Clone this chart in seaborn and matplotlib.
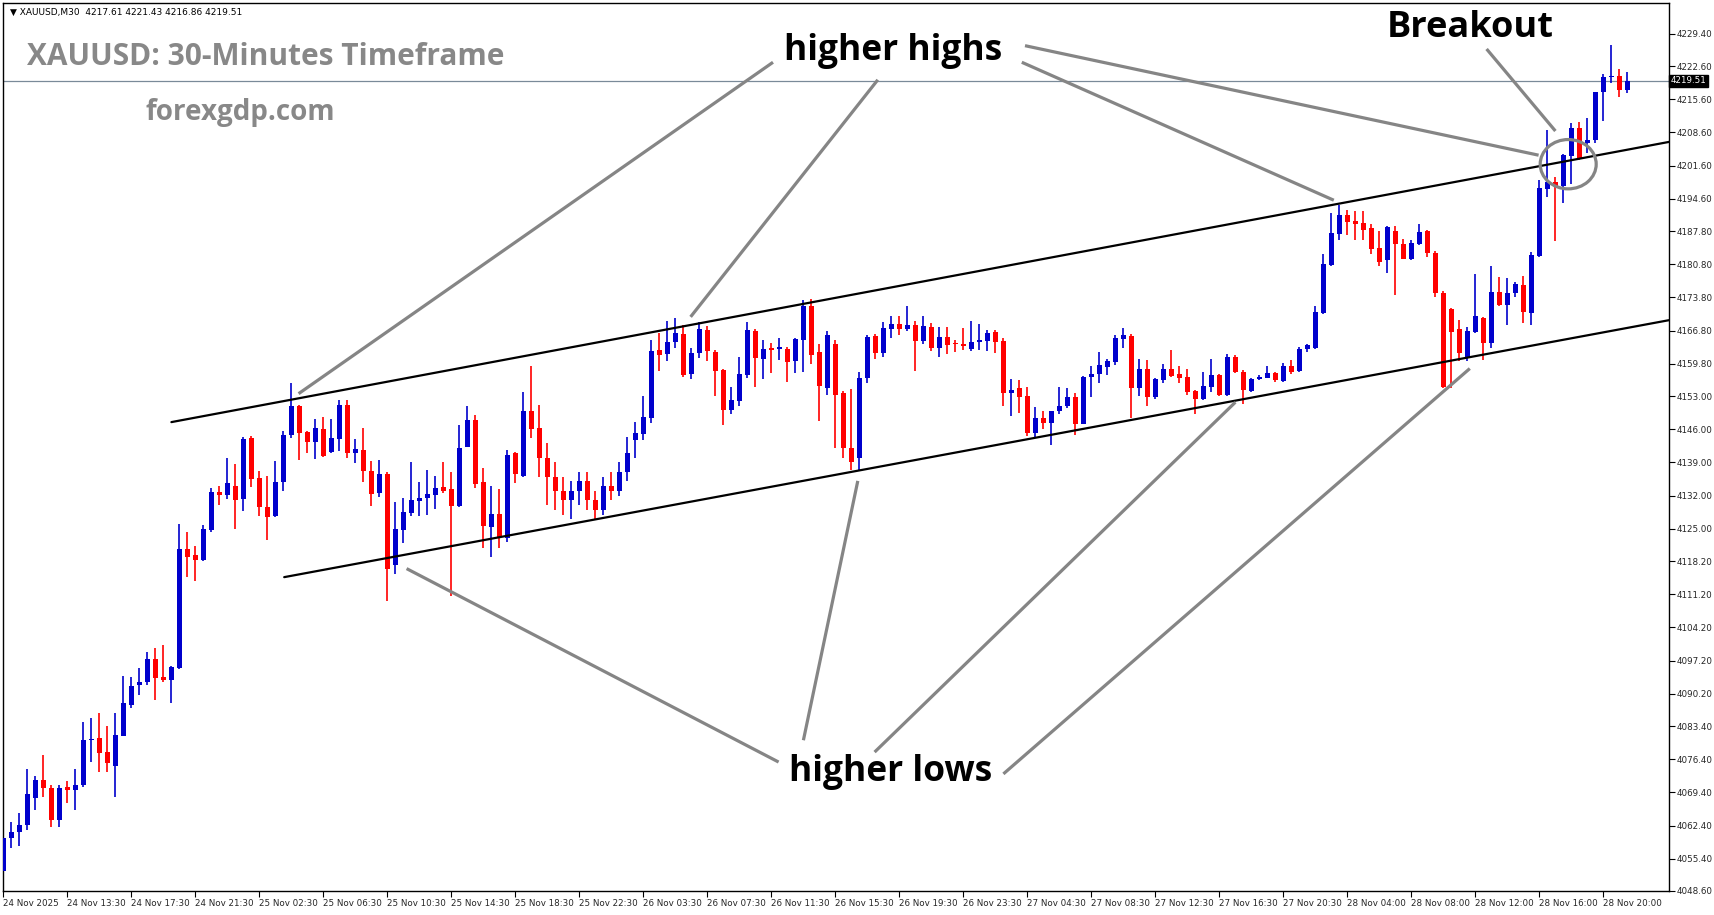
import numpy as np
import pandas as pd
import matplotlib
matplotlib.use("Agg")
import matplotlib.pyplot as plt
import seaborn as sns
from matplotlib.patches import Ellipse

# OHLC of the XAUUSD M30 candles
opens = [4052.8, 4059.7, 4061.0, 4062.5, 4068.3, 4072.0, 4070.4, 4063.6, 4070.6, 4069.9,
         4071.0, 4080.5, 4080.9, 4077.9, 4075.0, 4081.2, 4087.9, 4092.1, 4092.6, 4097.5,
         4093.8, 4093.0, 4095.7, 4120.7, 4119.5, 4118.5, 4124.8, 4132.8, 4132.2, 4134.0,
         4131.2, 4144.2, 4135.8, 4129.6, 4127.6, 4134.8, 4144.7, 4151.0, 4145.4, 4143.2,
         4146.1, 4141.1, 4144.0, 4151.1, 4140.9, 4141.6, 4137.2, 4132.6, 4136.6, 4117.3,
         4124.8, 4128.3, 4130.8, 4131.4, 4132.2, 4133.8, 4133.4, 4129.9, 4142.3, 4148.0,
         4134.8, 4125.3, 4128.1, 4123.1, 4141.0, 4136.2, 4149.9, 4146.2, 4140.0, 4136.0,
         4133.0, 4131.0, 4133.0, 4135.0, 4131.0, 4129.0, 4134.0, 4133.0, 4137.0, 4143.7,
         4144.9, 4148.4, 4162.7, 4161.9, 4164.3, 4166.1, 4157.6, 4162.1, 4166.9, 4162.3,
         4158.5, 4150.1, 4152.0, 4157.4, 4166.7, 4160.8, 4162.9, 4162.9, 4163.0, 4160.3,
         4164.8, 4171.9, 4162.3, 4154.6, 4164.0, 4153.7, 4142.0, 4140.0, 4156.9, 4165.7,
         4162.0, 4167.2, 4168.2, 4167.2, 4168.0, 4164.7, 4167.6, 4163.2, 4165.5, 4164.2,
         4164.0, 4163.0, 4164.3, 4164.6, 4166.5, 4164.6, 4153.7, 4154.6, 4153.0, 4145.3,
         4148.3, 4147.4, 4149.8, 4150.9, 4152.8, 4147.1, 4157.0, 4157.6, 4159.2, 4160.2,
         4165.0, 4165.7, 4154.7, 4158.7, 4152.8, 4156.4, 4158.8, 4157.6, 4157.1, 4154.1,
         4152.4, 4155.0, 4157.4, 4153.2, 4161.3, 4158.0, 4154.1, 4156.5, 4156.9, 4157.8,
         4156.2, 4159.3, 4158.3, 4162.9, 4163.1, 4170.6, 4180.6, 4187.1, 4191.2, 4189.9,
         4189.6, 4188.4, 4184.2, 4181.6, 4187.9, 4185.1, 4182.0, 4185.1, 4187.8, 4183.1,
         4174.7, 4171.3, 4167.1, 4161.3, 4166.6, 4169.4, 4164.2, 4175.0, 4172.1, 4174.7,
         4176.5, 4170.6, 4182.6, 4196.6, 4198.2, 4197.2, 4203.6, 4209.5, 4206.4, 4206.9,
         4217.1, 4220.2, 4220.5, 4217.61]
highs = [4067.0, 4063.1, 4065.0, 4074.3, 4072.9, 4077.3, 4071.0, 4071.0, 4071.8, 4074.3,
         4084.3, 4085.0, 4086.2, 4083.3, 4086.2, 4094.0, 4093.8, 4095.7, 4099.0, 4099.8,
         4100.5, 4096.0, 4126.0, 4124.3, 4121.4, 4125.7, 4133.6, 4134.0, 4140.0, 4138.7,
         4144.4, 4144.6, 4137.2, 4136.1, 4139.3, 4145.6, 4155.7, 4151.2, 4145.6, 4148.2,
         4148.6, 4148.2, 4152.2, 4152.2, 4143.9, 4146.3, 4139.3, 4139.5, 4136.9, 4130.7,
         4131.4, 4139.0, 4134.8, 4137.4, 4136.2, 4139.0, 4137.0, 4146.9, 4150.9, 4148.9,
         4137.8, 4134.0, 4133.3, 4141.6, 4141.3, 4153.9, 4159.3, 4151.1, 4143.0, 4139.0,
         4136.0, 4135.0, 4137.0, 4137.0, 4133.0, 4136.0, 4137.0, 4139.0, 4144.4, 4147.6,
         4153.0, 4164.8, 4166.2, 4168.9, 4169.4, 4167.9, 4163.1, 4168.7, 4167.8, 4162.8,
         4158.6, 4154.8, 4161.3, 4168.6, 4167.1, 4164.8, 4164.2, 4165.2, 4163.4, 4165.2,
         4173.3, 4173.4, 4164.0, 4166.7, 4164.8, 4154.0, 4154.5, 4158.1, 4165.9, 4166.0,
         4168.7, 4169.9, 4169.9, 4171.9, 4168.9, 4169.9, 4168.5, 4167.6, 4167.6, 4164.8,
         4167.3, 4168.8, 4168.2, 4166.9, 4166.9, 4165.3, 4156.5, 4156.4, 4154.8, 4150.7,
         4149.9, 4149.9, 4154.8, 4154.6, 4153.6, 4157.2, 4159.3, 4162.3, 4160.9, 4165.9,
         4167.3, 4166.1, 4160.8, 4160.6, 4156.8, 4159.7, 4162.7, 4159.3, 4158.7, 4154.3,
         4158.0, 4160.8, 4157.6, 4161.8, 4161.6, 4158.5, 4156.8, 4157.4, 4159.3, 4158.0,
         4159.9, 4160.6, 4163.3, 4164.0, 4172.0, 4183.0, 4191.7, 4193.3, 4192.2, 4192.0,
         4192.0, 4189.3, 4187.8, 4188.8, 4188.9, 4186.1, 4185.9, 4189.3, 4188.0, 4183.6,
         4175.2, 4171.5, 4169.1, 4167.5, 4178.8, 4169.6, 4180.5, 4178.2, 4177.8, 4177.0,
         4178.4, 4183.3, 4198.6, 4209.1, 4199.3, 4204.0, 4210.5, 4210.9, 4211.6, 4217.2,
         4220.9, 4227.0, 4221.9, 4221.43]
lows = [4052.0, 4057.6, 4058.0, 4061.5, 4065.7, 4068.5, 4062.0, 4062.0, 4067.1, 4065.7,
        4070.6, 4075.9, 4073.8, 4073.8, 4068.5, 4081.2, 4087.1, 4089.9, 4092.1, 4088.9,
        4092.6, 4088.2, 4095.4, 4114.9, 4113.9, 4118.1, 4124.4, 4130.1, 4131.2, 4125.0,
        4128.8, 4133.9, 4127.6, 4122.6, 4127.4, 4132.9, 4144.1, 4139.5, 4140.9, 4139.7,
        4140.2, 4141.0, 4141.5, 4140.0, 4138.8, 4134.8, 4129.9, 4131.6, 4109.7, 4115.5,
        4122.0, 4127.6, 4127.6, 4127.9, 4129.2, 4132.6, 4110.9, 4129.5, 4142.2, 4133.5,
        4121.0, 4119.0, 4120.9, 4122.3, 4134.6, 4136.0, 4144.1, 4136.0, 4130.0, 4129.0,
        4128.0, 4127.0, 4130.0, 4129.0, 4127.0, 4128.0, 4131.0, 4132.0, 4135.0, 4140.0,
        4143.7, 4147.4, 4158.3, 4160.3, 4163.2, 4157.1, 4156.6, 4161.0, 4160.3, 4153.0,
        4146.9, 4149.2, 4151.0, 4156.7, 4155.0, 4156.6, 4157.9, 4160.5, 4156.0, 4157.8,
        4158.0, 4159.8, 4147.8, 4153.2, 4142.0, 4140.0, 4137.5, 4137.4, 4155.7, 4160.8,
        4161.3, 4165.2, 4165.8, 4166.8, 4158.2, 4164.0, 4162.6, 4161.3, 4161.8, 4162.2,
        4162.7, 4162.6, 4162.7, 4162.4, 4162.0, 4151.0, 4148.8, 4149.5, 4144.6, 4144.4,
        4146.0, 4142.7, 4149.2, 4150.4, 4144.8, 4147.0, 4152.7, 4155.7, 4157.4, 4159.6,
        4163.1, 4148.3, 4153.0, 4150.9, 4152.4, 4155.7, 4157.0, 4155.7, 4153.2, 4149.2,
        4152.1, 4153.9, 4153.0, 4153.0, 4157.8, 4151.4, 4153.9, 4156.4, 4156.7, 4156.0,
        4156.0, 4157.6, 4158.1, 4162.2, 4162.9, 4170.3, 4180.5, 4185.9, 4187.0, 4185.9,
        4186.0, 4182.9, 4180.4, 4179.0, 4174.3, 4181.8, 4181.7, 4184.9, 4182.3, 4173.9,
        4154.6, 4154.7, 4160.3, 4160.3, 4166.4, 4160.6, 4163.2, 4171.9, 4168.0, 4173.9,
        4168.5, 4167.9, 4182.4, 4194.9, 4185.8, 4193.8, 4197.7, 4202.8, 4204.3, 4206.3,
        4211.1, 4219.0, 4216.1, 4216.86]
closes = [4059.7, 4061.0, 4062.5, 4069.0, 4072.0, 4070.4, 4063.6, 4070.4, 4070.0, 4071.0,
          4080.5, 4080.6, 4077.8, 4075.7, 4081.5, 4088.3, 4091.9, 4092.7, 4097.5, 4093.6,
          4093.0, 4095.9, 4120.7, 4119.1, 4118.5, 4125.0, 4132.8, 4132.2, 4134.7, 4131.1,
          4144.0, 4135.4, 4129.5, 4127.4, 4134.9, 4144.8, 4151.0, 4145.3, 4143.2, 4146.3,
          4140.4, 4144.2, 4151.1, 4140.9, 4141.9, 4137.1, 4132.4, 4136.6, 4116.6, 4125.0,
          4128.6, 4131.1, 4131.4, 4132.4, 4133.6, 4133.0, 4129.9, 4142.1, 4148.0, 4134.5,
          4125.5, 4128.1, 4123.3, 4140.6, 4136.5, 4149.9, 4146.1, 4140.0, 4136.0, 4133.0,
          4131.0, 4133.0, 4135.0, 4131.0, 4129.0, 4134.0, 4133.0, 4137.0, 4141.0, 4145.1,
          4148.5, 4162.5, 4161.7, 4164.4, 4166.2, 4157.4, 4162.1, 4167.1, 4162.4, 4158.3,
          4150.1, 4152.2, 4157.7, 4166.9, 4161.1, 4162.9, 4162.8, 4163.3, 4160.1, 4165.0,
          4171.9, 4161.7, 4155.1, 4165.9, 4153.2, 4142.0, 4139.0, 4156.7, 4165.5, 4162.0,
          4167.3, 4168.2, 4167.2, 4168.0, 4164.7, 4167.8, 4163.2, 4165.5, 4163.8, 4163.9,
          4163.6, 4164.4, 4164.8, 4166.4, 4164.5, 4153.7, 4154.3, 4152.8, 4145.3, 4148.3,
          4147.4, 4149.8, 4150.9, 4152.8, 4147.1, 4157.1, 4157.7, 4159.5, 4160.4, 4165.2,
          4165.9, 4154.7, 4158.7, 4152.8, 4156.6, 4158.8, 4157.3, 4156.7, 4153.8, 4152.4,
          4155.2, 4157.4, 4153.2, 4161.3, 4158.0, 4154.3, 4156.6, 4157.1, 4157.9, 4156.4,
          4159.3, 4158.1, 4163.0, 4163.7, 4170.7, 4180.8, 4187.4, 4191.2, 4189.7, 4189.3,
          4188.0, 4184.1, 4181.3, 4188.6, 4185.0, 4182.0, 4185.3, 4187.6, 4183.1, 4174.8,
          4154.9, 4166.6, 4162.0, 4166.8, 4169.8, 4164.2, 4175.0, 4172.2, 4174.7, 4176.7,
          4170.7, 4182.8, 4196.8, 4198.2, 4197.2, 4203.8, 4209.5, 4203.1, 4206.9, 4217.1,
          4220.2, 4220.5, 4217.5, 4219.51]

price_ticks = [4229.40, 4222.60, 4215.60, 4208.60, 4201.60, 4194.60, 4187.80, 4180.80,
               4173.80, 4166.80, 4159.80, 4153.00, 4146.00, 4139.00, 4132.00, 4125.00,
               4118.20, 4111.20, 4104.20, 4097.20, 4090.20, 4083.40, 4076.40, 4069.40,
               4062.40, 4055.40, 4048.60]
time_labels = ["24 Nov 2025", "24 Nov 13:30", "24 Nov 17:30", "24 Nov 21:30", "25 Nov 02:30",
               "25 Nov 06:30", "25 Nov 10:30", "25 Nov 14:30", "25 Nov 18:30", "25 Nov 22:30",
               "26 Nov 03:30", "26 Nov 07:30", "26 Nov 11:30", "26 Nov 15:30", "26 Nov 19:30",
               "26 Nov 23:30", "27 Nov 04:30", "27 Nov 08:30", "27 Nov 12:30", "27 Nov 16:30",
               "27 Nov 20:30", "28 Nov 04:00", "28 Nov 08:00", "28 Nov 12:00", "28 Nov 16:00",
               "28 Nov 20:00"]
time_label_bars = [0] + list(range(8, 203, 8))

# channel lines (bar index, price)
upper_x = [21.0, 208.2]
upper_y = [4147.5, 4206.6]
lower_x = [35.1, 208.2]
lower_y = [4114.8, 4169.0]
last_price = 4219.51

df = pd.DataFrame({"open": opens, "high": highs, "low": lows, "close": closes})
df["bar"] = np.arange(len(df))
df["color"] = np.where(df["close"] >= df["open"], "#0000CC", "#FF0000")

sns.set_theme(style="white")
plt.rcParams["font.family"] = ["DejaVu Sans"]

fig = plt.figure(figsize=(17.14, 9.15), dpi=100)
ax = fig.add_axes([3 / 1714, 24 / 915, 1666 / 1714, 888 / 915])

ax.vlines(df["bar"], df["low"], df["high"], colors=df["color"], linewidth=1.2, zorder=2)
body_lo = df[["open", "close"]].min(axis=1)
body_h = (df["close"] - df["open"]).abs().clip(lower=0.25)
ax.bar(df["bar"], body_h, bottom=body_lo, width=0.62, color=df["color"], linewidth=0, zorder=3)

sns.lineplot(x=upper_x, y=upper_y, color="black", linewidth=1.6, ax=ax, zorder=4)
sns.lineplot(x=lower_x, y=lower_y, color="black", linewidth=1.6, ax=ax, zorder=4)
ax.axhline(last_price, color="#7a8a99", linewidth=0.9, zorder=1)

grey = "#858585"
hh_lines = [((96.2, 4223.4), (36.9, 4153.5)),
            ((109.3, 4219.7), (85.9, 4169.7)),
            ((127.3, 4223.4), (166.3, 4194.3)),
            ((127.7, 4226.9), (191.9, 4203.8)),
            ((185.4, 4226.2), (194.0, 4208.9))]
hl_lines = [((96.9, 4075.8), (50.4, 4116.6)),
            ((100.0, 4080.4), (106.8, 4135.1)),
            ((108.9, 4077.9), (154.0, 4151.7)),
            ((125.0, 4073.3), (183.3, 4158.8))]
for (x0, y0), (x1, y1) in hh_lines + hl_lines:
    ax.plot([x0, x1], [y0, y1], color=grey, linewidth=2.3, zorder=5, solid_capstyle="butt")
ax.add_patch(Ellipse((195.6, 4201.9), 7.0, 10.4, fill=False, edgecolor=grey, linewidth=2.3, zorder=5))

bold = dict(fontfamily="Open Sans", fontweight="bold", color="black", zorder=6)
ax.text(111.2, 4225.7, "higher highs", ha="center", va="center", fontsize=25.5, **bold)
ax.text(110.9, 4073.7, "higher lows", ha="center", va="center", fontsize=25.5, **bold)
ax.text(183.3, 4230.6, "Breakout", ha="center", va="center", fontsize=26, **bold)

fig.text(0.016, 0.938, "XAUUSD: 30-Minutes Timeframe", fontfamily="Open Sans", fontweight="bold",
         fontsize=21.5, color="#888888", va="center")
fig.text(0.085, 0.877, "forexgdp.com", fontfamily="Open Sans", fontweight="bold",
         fontsize=20, color="#888888", va="center")
ax.text(0.004, 0.995, "\u25bc XAUUSD,M30  4217.61 4221.43 4216.86 4219.51", transform=ax.transAxes,
        fontsize=6.5, va="top", ha="left", color="black")

ax.set_xlim(-0.05, 208.2)
ax.set_ylim(4048.6, 4235.9)
ax.yaxis.tick_right()
ax.set_yticks(price_ticks)
ax.set_yticklabels([f"{p:.2f}" for p in price_ticks], fontsize=6.3)
ax.set_xticks(time_label_bars)
ax.set_xticklabels(time_labels, fontsize=6.3, ha="left")
ax.tick_params(axis="both", length=4, width=0.8, color="black", pad=2, direction="out")
ax.tick_params(axis="y", right=True, left=False, pad=1.5)
ax.tick_params(axis="x", bottom=True)
for s in ax.spines.values():
    s.set_color("black")
    s.set_linewidth(1)
ax.text(1.001, last_price, f"{last_price:.2f}", transform=ax.get_yaxis_transform(), fontsize=6.3,
        color="white", va="center", ha="left",
        bbox=dict(boxstyle="square,pad=0.15", facecolor="black", edgecolor="black"))
ax.set_xlabel("")
ax.set_ylabel("")

fig.savefig("out.png", dpi=100)
